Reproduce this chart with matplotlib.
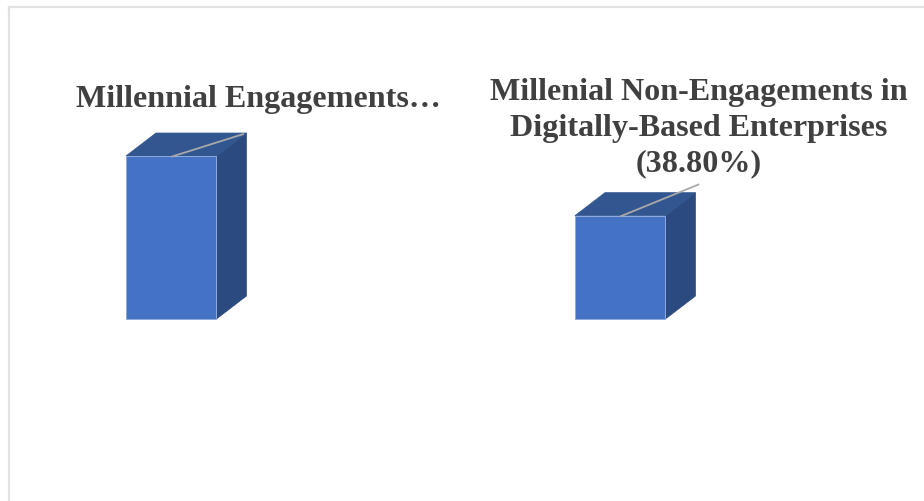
import matplotlib
matplotlib.use('Agg')
import matplotlib.pyplot as plt
from matplotlib.patches import Polygon

# series values in percent, first label is cut off with an ellipsis on the chart
categories = ['Millennial Engagements…',
              'Millenial Non-Engagements in\nDigitally-Based Enterprises\n(38.80%)']
values = [61.2, 38.8]

FRONT = '#4472c4'
TOP = '#32568f'
SIDE = '#2a4a80'
GLOW = '#8fa9db'
LEADER = '#a9a9a9'

W, H = 924, 501
BASE_PX = 319          # baseline, pixels from top
UNIT_PX = 163 / 61.2   # pixels per percent
STEP_PX = 449          # distance between bars
FIRST_PX = 171.2       # centre of first bar
BAR_PX = 90.5
DX_PX, DY_PX = 30, 23  # 3d depth

plt.rcParams['font.family'] = ['Liberation Serif', 'DejaVu Serif']

fig = plt.figure(figsize=(W / 100, H / 100), dpi=100, facecolor='white')
ax = fig.add_axes([0, 0, 1, 1])
ax.set_xlim(-FIRST_PX / STEP_PX, (W - FIRST_PX) / STEP_PX)
ax.set_ylim((BASE_PX - H) / UNIT_PX, BASE_PX / UNIT_PX)
ax.axis('off')

bw = BAR_PX / STEP_PX
dx = DX_PX / STEP_PX
dy = DY_PX / UNIT_PX


def draw_box(x, v):
    l, r = x - bw / 2, x + bw / 2
    # front, then top and side faces
    ax.add_patch(Polygon([(r, 0), (r + dx, dy), (r + dx, v + dy), (r, v)],
                         fc=SIDE, ec=SIDE, lw=0.5))
    ax.add_patch(Polygon([(l, v), (l + dx, v + dy), (r + dx, v + dy), (r, v)],
                         fc=TOP, ec=TOP, lw=0.5))
    ax.add_patch(Polygon([(l, 0), (l, v), (r, v), (r, 0)],
                         fc=FRONT, ec=GLOW, lw=0.7))


for i, v in enumerate(values):
    draw_box(i, v)

# leader lines run from the top of each box towards its label
leader_ends = [(0.162, 69.5), (0.176, 50.6)]
for i, v in enumerate(values):
    ax.plot([i, leader_ends[i][0] + i], [v - 0.3, leader_ends[i][1]],
            color=LEADER, lw=1.3, solid_capstyle='butt')

ax.text(0.195, 82.4, categories[0], ha='center', va='center',
        fontsize=23.1, fontweight='bold', color='#404040')
ax.text(1.175, 71.7, categories[1], ha='center', va='center',
        fontsize=23.1, fontweight='bold', color='#404040', linespacing=1.31)

# thin outer frame, open at the bottom and right
fig.add_artist(plt.Line2D([8.5 / W, 8.5 / W], [0, 1 - 7 / H], color='#e2e2e2', lw=1.6))
fig.add_artist(plt.Line2D([8.5 / W, 1], [1 - 7 / H, 1 - 7 / H], color='#e2e2e2', lw=1.6))

fig.savefig('out.png', dpi=100)
